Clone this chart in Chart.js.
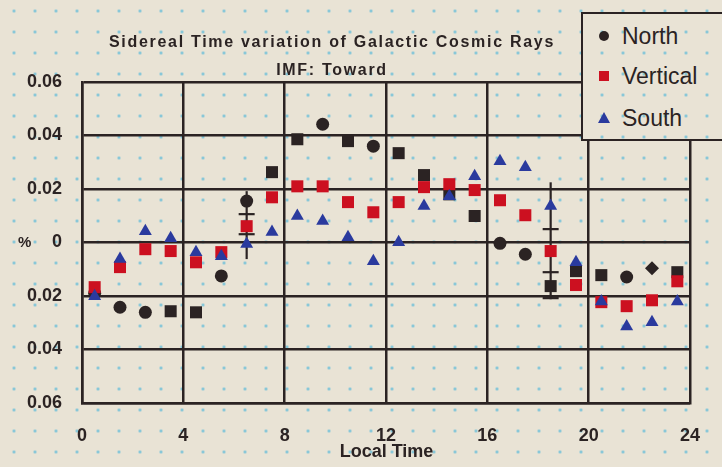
<!DOCTYPE html>
<html>
<head>
<meta charset="utf-8">
<script src="https://cdn.jsdelivr.net/npm/chart.js@4/dist/chart.umd.min.js"></script>
<style>
  html, body { margin:0; padding:0; }
  body {
    width:722px; height:467px; overflow:hidden; position:relative;
    background-color:#e9e3d5;
    background-image: radial-gradient(circle, #79c3d8 1.1px, rgba(121,195,216,0) 1.7px);
    background-size:21px 21px;
    background-position:3.5px 0.5px;
    background-attachment:fixed;
    font-family:"Liberation Sans", Arial, sans-serif;
    color:#2b2323;
  }
  #c { position:absolute; left:0; top:0; }
  .t { position:absolute; font-weight:bold; white-space:nowrap; }
  #legend {
    position:absolute; left:581px; top:12px; width:150px; height:129px;
    box-sizing:border-box; border:2px solid #2b2323;
    background-color:#e9e3d5;
    background-image: radial-gradient(circle, #79c3d8 1.1px, rgba(121,195,216,0) 1.7px);
    background-size:21px 21px;
    background-position:3.5px 0.5px;
    background-attachment:fixed;
  }
  .li { position:absolute; left:0; height:30px; width:150px; }
  .li span.txt { position:absolute; left:39px; top:0; font-size:23px; line-height:30px; color:#2b2323; }
  .mk { position:absolute; }
</style>
</head>
<body>
<canvas id="c" width="722" height="467"></canvas>
<div class="t" style="left:0;width:664px;text-align:center;top:33px;font-size:16px;letter-spacing:1.7px;">Sidereal Time variation of Galactic Cosmic Rays</div>
<div class="t" style="left:0;width:664px;text-align:center;top:61px;font-size:16px;letter-spacing:1.7px;">IMF: Toward</div>
<div class="t" style="left:18px;top:233px;font-size:15px;">%</div>
<div class="t" style="left:82px;width:609px;text-align:center;top:441px;font-size:18px;">Local Time</div>
<div id="legend">
  <div class="li" style="top:7px;"><div class="mk" style="left:16px;top:10px;width:10px;height:10px;border-radius:50%;background:#2b2323;"></div><span class="txt">North</span></div>
  <div class="li" style="top:47px;"><div class="mk" style="left:16px;top:10px;width:10px;height:10px;background:#cc1020;"></div><span class="txt">Vertical</span></div>
  <div class="li" style="top:89px;"><div class="mk" style="left:15px;top:9px;width:0;height:0;border-left:6px solid transparent;border-right:6px solid transparent;border-bottom:11px solid #2a3a9e;"></div><span class="txt">South</span></div>
</div>
<script>
// ---- data ----
const hours = [0.5,1.5,2.5,3.5,4.5,5.5,6.5,7.5,8.5,9.5,10.5,11.5,12.5,13.5,14.5,15.5,16.5,17.5,18.5,19.5,20.5,21.5,22.5,23.5];
const northValues = [-0.019,-0.0242,-0.0261,-0.0257,-0.0261,-0.0125,0.0155,0.0263,0.0386,0.0442,0.0379,0.036,0.0334,0.0252,0.018,0.0099,-0.0003,-0.0044,-0.0163,-0.0107,-0.0122,-0.0129,-0.0096,-0.0111];
const verticalValues = [-0.0167,-0.0092,-0.0025,-0.0032,-0.0074,-0.0036,0.0061,0.0169,0.021,0.021,0.0151,0.0113,0.0151,0.0207,0.0218,0.0196,0.0158,0.0102,-0.0032,-0.0159,-0.0223,-0.0238,-0.0216,-0.0145];
const southValues = [-0.0201,-0.0062,0.0042,0.0016,-0.0036,-0.0051,-0.0006,0.0039,0.0099,0.008,0.002,-0.007,0.0001,0.0136,0.0173,0.0248,0.0304,0.0281,0.0136,-0.0074,-0.0221,-0.0314,-0.0298,-0.0221];
const errHours = [6.5, 18.5];
const errLow = [-0.0062, -0.0212];
const errHigh = [0.0192, 0.0225];
const errCaps = [[0.0106, 0.0031], [0.005, -0.0111, -0.0208]];
const xTickLabels = ['0','4','8','12','16','20','24'];
const yTickLabels = ['0.06','0.04','0.02','0','0.02','0.04','0.06'];

const INK = '#2b2323';
const northStyles = ['circle','circle','circle','rect','rect','circle','circle','rect','rect','circle','rect','circle','rect','rect','rect','rect','circle','circle','rect','rect','rect','circle','rectRot','rect'];
const styleRadius = {circle:6.5, rect:8.5, rectRot:7};

const pts = vals => hours.map((h,i) => ({x:h, y:vals[i]}));

const errorBarPlugin = {
  id:'errorBars',
  beforeDatasetsDraw(chart){
    const {ctx, scales:{x, y}} = chart;
    ctx.save();
    ctx.strokeStyle = INK;
    ctx.lineWidth = 2.2;
    errHours.forEach((h,i) => {
      const px = x.getPixelForValue(h);
      ctx.beginPath();
      ctx.moveTo(px, y.getPixelForValue(errHigh[i]));
      ctx.lineTo(px, y.getPixelForValue(errLow[i]));
      ctx.stroke();
      errCaps[i].forEach(c => {
        const py = y.getPixelForValue(c);
        ctx.beginPath();
        ctx.moveTo(px-8, py);
        ctx.lineTo(px+8, py);
        ctx.stroke();
      });
    });
    ctx.restore();
  }
};

new Chart(document.getElementById('c'), {
  type:'scatter',
  data:{
    datasets:[
      {label:'North', data:pts(northValues), order:3, pointStyle:northStyles, pointRadius:northStyles.map(s=>styleRadius[s]), backgroundColor:INK, borderColor:INK, borderWidth:0},
      {label:'Vertical', data:pts(verticalValues), order:2, pointStyle:'rect', pointRadius:8.5, backgroundColor:'#cc1020', borderColor:'#cc1020', borderWidth:0},
      {label:'South', data:pts(southValues), order:1, pointStyle:'triangle', pointRadius:7.5, backgroundColor:'#2a3a9e', borderColor:'#2a3a9e', borderWidth:0}
    ]
  },
  options:{
    responsive:false,
    animation:false,
    devicePixelRatio:1,
    layout:{padding:{top:82, right:31, left:0, bottom:0}},
    plugins:{legend:{display:false}, tooltip:{enabled:false}, title:{display:false}},
    scales:{
      x:{
        type:'linear', min:0, max:24,
        afterFit(s){ s.height = 64; },
        ticks:{stepSize:4, padding:22, color:INK, font:{family:'Liberation Sans', size:18, weight:'bold'},
          callback:(v,i)=> xTickLabels[i]},
        grid:{color:INK, lineWidth:2.5, drawTicks:false},
        border:{color:INK, width:2.5}
      },
      y:{
        type:'linear', min:-0.06, max:0.06,
        afterFit(s){ s.width = 82; },
        ticks:{stepSize:0.02, padding:20, color:INK, font:{family:'Liberation Sans', size:18, weight:'bold'},
          callback:(v,i)=> yTickLabels[i]},
        grid:{color:INK, lineWidth:2.5, drawTicks:false},
        border:{color:INK, width:2.5}
      }
    }
  },
  plugins:[errorBarPlugin]
});
</script>
</body>
</html>
